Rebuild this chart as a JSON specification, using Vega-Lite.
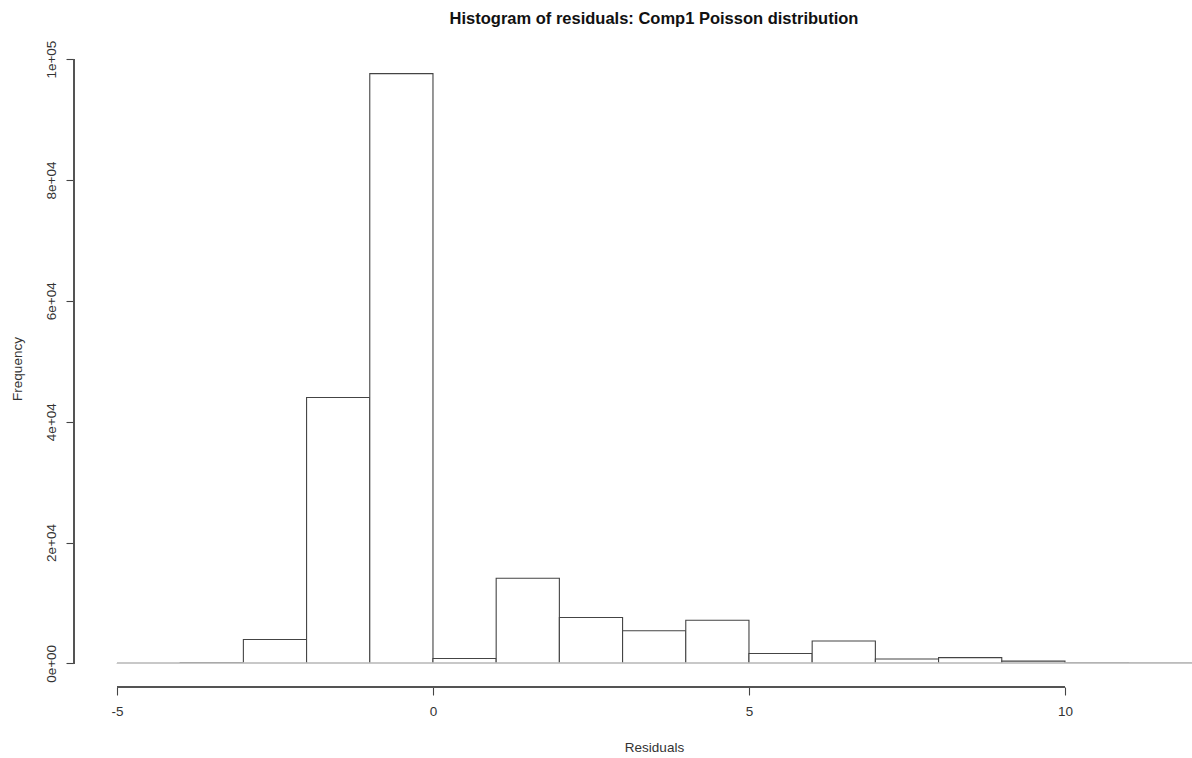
{
  "$schema": "https://vega.github.io/schema/vega-lite/v6.json",
  "width": 1118,
  "height": 637,
  "autosize": {"type": "none"},
  "padding": {"left": 74, "top": 50, "right": 0, "bottom": 71},
  "background": "white",
  "config": {
    "view": {"stroke": null},
    "font": "Liberation Sans",
    "axis": {
      "grid": false,
      "domain": false,
      "tickColor": "#444",
      "tickWidth": 1.1,
      "labelColor": "#333",
      "labelFontSize": 13.5,
      "labelFont": "Liberation Sans",
      "titleColor": "#333",
      "titleFontSize": 13.5,
      "titleFont": "Liberation Sans",
      "titleFontWeight": "normal"
    }
  },
  "title": {
    "text": "Histogram of residuals: Comp1 Poisson distribution",
    "font": "Liberation Sans",
    "fontSize": 16.5,
    "fontWeight": "bold",
    "color": "#111",
    "anchor": "middle",
    "dx": 21,
    "offset": 13
  },
  "data": {
    "values": [
      {"bin_start": -5, "bin_end": -4, "count": 0},
      {"bin_start": -4, "bin_end": -3, "count": 150},
      {"bin_start": -3, "bin_end": -2, "count": 3950},
      {"bin_start": -2, "bin_end": -1, "count": 44000},
      {"bin_start": -1, "bin_end": 0, "count": 97600},
      {"bin_start": 0, "bin_end": 1, "count": 800},
      {"bin_start": 1, "bin_end": 2, "count": 14100},
      {"bin_start": 2, "bin_end": 3, "count": 7600},
      {"bin_start": 3, "bin_end": 4, "count": 5400},
      {"bin_start": 4, "bin_end": 5, "count": 7150},
      {"bin_start": 5, "bin_end": 6, "count": 1650},
      {"bin_start": 6, "bin_end": 7, "count": 3700},
      {"bin_start": 7, "bin_end": 8, "count": 720},
      {"bin_start": 8, "bin_end": 9, "count": 950},
      {"bin_start": 9, "bin_end": 10, "count": 380},
      {"bin_start": 10, "bin_end": 11, "count": 120},
      {"bin_start": 11, "bin_end": 12, "count": 60}
    ]
  },
  "layer": [
    {
      "mark": {"type": "rect", "fill": "white", "stroke": "#444", "strokeWidth": 1.1, "clip": true},
      "encoding": {
        "x": {
          "field": "bin_start",
          "type": "quantitative",
          "scale": {"domain": [-5.68, 12.01], "nice": false, "zero": false},
          "axis": {
            "values": [-5, 0, 5, 10],
            "tickSize": 8,
            "labelPadding": 9,
            "labelExpr": "'' + datum.value",
            "title": "Residuals",
            "titlePadding": 23,
            "titleX": 580
          }
        },
        "x2": {"field": "bin_end"},
        "y": {
          "field": "count",
          "type": "quantitative",
          "scale": {"domain": [-3904, 101504], "nice": false, "zero": false},
          "axis": {
            "values": [0, 20000, 40000, 60000, 80000, 100000],
            "tickSize": 8,
            "labelAngle": -90,
            "labelAlign": "center",
            "labelBaseline": "bottom",
            "labelPadding": 8,
            "labelExpr": "slice(format(datum.value, '.0e'), 0, 3) + '0' + slice(format(datum.value, '.0e'), 3)",
            "title": "Frequency",
            "titlePadding": 20
          }
        },
        "y2": {"datum": 0}
      }
    },
    {
      "mark": {"type": "rule", "color": "#c8c8c8", "strokeWidth": 1, "clip": true},
      "encoding": {
        "x": {"datum": -5},
        "x2": {"datum": 13},
        "y": {"datum": 0}
      }
    },
    {
      "mark": {"type": "rule", "color": "#555", "strokeWidth": 1.1},
      "encoding": {
        "x": {"datum": -5.68},
        "y": {"datum": 0},
        "y2": {"datum": 100000}
      }
    },
    {
      "mark": {"type": "rule", "color": "#555", "strokeWidth": 1.1},
      "encoding": {
        "x": {"datum": -5},
        "x2": {"datum": 10},
        "y": {"datum": -3904}
      }
    }
  ]
}
